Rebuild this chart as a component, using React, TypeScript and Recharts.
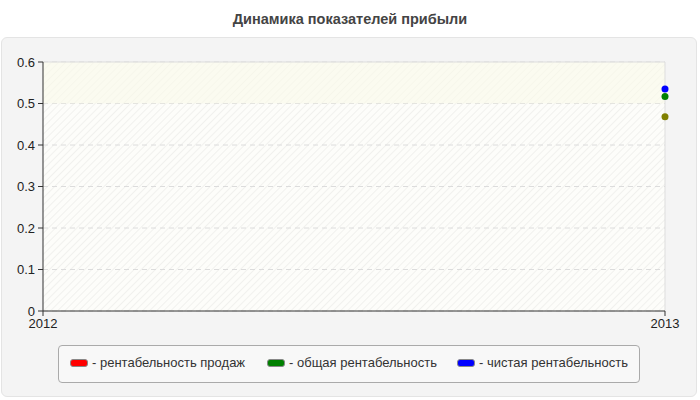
import { LineChart, Line, XAxis, YAxis, CartesianGrid, ReferenceArea, ReferenceLine } from "recharts";

const years = [2012, 2013];
const salesMargin = [null, 0.468];
const totalMargin = [null, 0.517];
const netMargin = [null, 0.535];
const yTicks = [0, 0.1, 0.2, 0.3, 0.4, 0.5, 0.6];

const seriesNames = ["рентабельность продаж", "общая рентабельность", "чистая рентабельность"];
const seriesColors = ["#ff0000", "#008000", "#0000ff"];

const data = years.map((year, i) => ({
  year,
  sales: salesMargin[i],
  total: totalMargin[i],
  net: netMargin[i],
}));

const font = "'Liberation Sans', Arial, sans-serif";

export default function App() {
  return (
    <div style={{ position: "absolute", left: 0, top: 0, width: 700, height: 400, background: "#fff", fontFamily: font }}>
      <div
        style={{
          position: "absolute",
          left: 0,
          right: 0,
          top: 11,
          textAlign: "center",
          fontSize: 14.5,
          fontWeight: "bold",
          color: "#444",
        }}
      >
        Динамика показателей прибыли
      </div>
      <div
        style={{
          position: "absolute",
          left: 1,
          top: 37,
          width: 694,
          height: 358,
          background: "#f4f4f4",
          border: "1px solid #e4e4e4",
          borderRadius: 6,
        }}
      />
      <div style={{ position: "absolute", left: 0, top: 0 }}>
        <LineChart width={700} height={400} data={data} margin={{ top: 62, right: 35, left: 0, bottom: 0 }}>
          <defs>
            <pattern id="hatch" patternUnits="userSpaceOnUse" width="5" height="5" patternTransform="rotate(45)">
              <rect width="5" height="5" fill="#fdfdfa" />
              <line x1="0" y1="0" x2="0" y2="5" stroke="#eeeeea" strokeWidth="1.5" />
            </pattern>
          </defs>
          <CartesianGrid vertical={false} stroke="#dcdcdc" strokeDasharray="5 4" fill="url(#hatch)" />
          <ReferenceArea y1={0.5} y2={0.6} fill="#fafaea" fillOpacity={0.6} stroke="none" ifOverflow="visible" />
          <ReferenceLine y={0.6} stroke="#dddddd" />
          <ReferenceLine x={2013} stroke="#dddddd" />
          <XAxis
            dataKey="year"
            type="number"
            domain={[2012, 2013]}
            ticks={years}
            height={89}
            axisLine={{ stroke: "#333" }}
            tickLine={{ stroke: "#333" }}
            tickSize={5}
            tickMargin={3}
            tick={{ fontSize: 13, fill: "#222", fontFamily: font }}
          />
          <YAxis
            type="number"
            domain={[0, 0.6]}
            ticks={yTicks}
            width={43}
            axisLine={{ stroke: "#333" }}
            tickLine={{ stroke: "#333" }}
            tickSize={5}
            tickMargin={3}
            tick={{ fontSize: 13, fill: "#222", fontFamily: font }}
          />
          <Line
            dataKey="sales"
            stroke={seriesColors[0]}
            isAnimationActive={false}
            dot={{ r: 3.5, fill: "#808000", stroke: "none" }}
          />
          <Line
            dataKey="total"
            stroke={seriesColors[1]}
            isAnimationActive={false}
            dot={{ r: 3.5, fill: seriesColors[1], stroke: "none" }}
          />
          <Line
            dataKey="net"
            stroke={seriesColors[2]}
            isAnimationActive={false}
            dot={{ r: 3.5, fill: seriesColors[2], stroke: "none" }}
          />
        </LineChart>
      </div>
      <div
        style={{
          position: "absolute",
          left: 58,
          top: 345,
          width: 580,
          height: 36,
          background: "#f8f8f8",
          border: "1px solid #aaa",
          borderRadius: 4,
        }}
      >
        {seriesNames.map((name, i) => (
          <div
            key={name}
            style={{
              position: "absolute",
              left: [11, 208, 398][i],
              top: 9,
              display: "flex",
              alignItems: "center",
              fontSize: 13,
              color: "#333",
              whiteSpace: "nowrap",
            }}
          >
            <span
              style={{
                display: "inline-block",
                width: 16,
                height: 6,
                background: seriesColors[i],
                border: "1px solid #888",
                borderRadius: 3,
                marginRight: 4,
              }}
            />
            - {name}
          </div>
        ))}
      </div>
    </div>
  );
}
